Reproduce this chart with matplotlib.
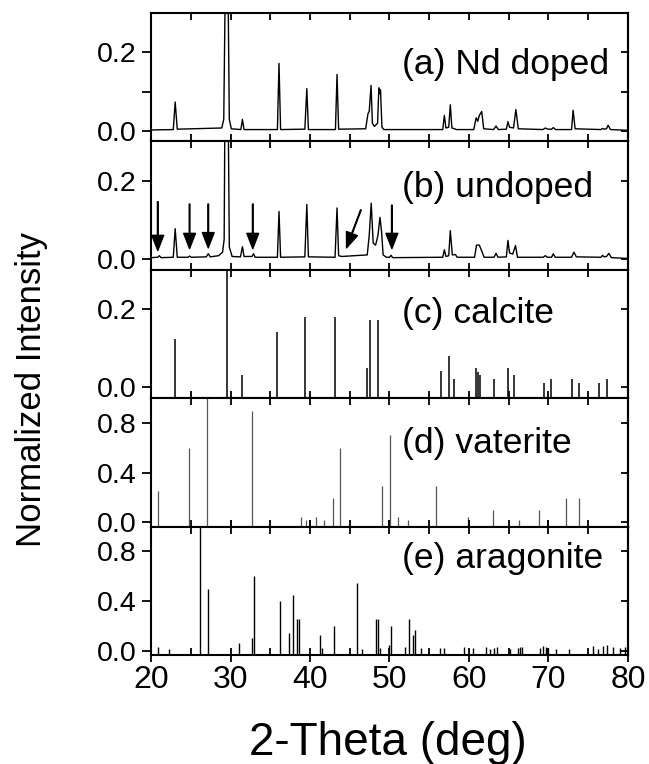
import matplotlib.pyplot as plt
from matplotlib.ticker import FixedLocator, MultipleLocator, FormatStrFormatter

plt.rcParams['font.family'] = ['Liberation Sans', 'DejaVu Sans']

nd_x = [20, 22.8, 23.04, 23.3, 28.9, 29.15, 29.3, 29.5, 29.72, 29.85, 30.1,
        31.3, 31.5, 31.7, 35.9, 36.1, 36.3, 39.35, 39.6, 39.8, 43.2, 43.4, 43.6,
        47.0, 47.3, 47.45, 47.68, 47.85, 48.1, 48.5, 48.66, 48.75, 48.87, 49.05, 49.3,
        56.7, 56.9, 57.1, 57.45, 57.65, 57.85, 58.2, 58.4, 60.6, 60.9, 61.1, 61.3,
        61.6, 61.85, 63.1, 63.4, 63.7, 64.7, 64.9, 65.1, 65.6, 65.9, 66.2, 69.3,
        69.6, 69.9, 70.4, 70.6, 70.9, 72.9, 73.1, 73.35, 76.6, 76.8, 77.0, 77.3,
        77.5, 77.8, 80]
nd_y = [0.003, 0.004, 0.074, 0.005, 0.008, 0.03, 0.3, 1.0, 0.3, 0.03, 0.006,
        0.004, 0.03, 0.004, 0.004, 0.172, 0.004, 0.005, 0.108, 0.004, 0.004, 0.144, 0.005,
        0.006, 0.045, 0.05, 0.116, 0.02, 0.012, 0.02, 0.11, 0.095, 0.105, 0.01, 0.004,
        0.004, 0.04, 0.008, 0.01, 0.067, 0.008, 0.006, 0.004, 0.004, 0.034, 0.025, 0.04,
        0.05, 0.006, 0.004, 0.013, 0.004, 0.005, 0.024, 0.01, 0.008, 0.055, 0.006, 0.004,
        0.008, 0.005, 0.005, 0.009, 0.004, 0.004, 0.053, 0.006, 0.004, 0.007, 0.005, 0.006,
        0.015, 0.004, 0.002]

# (b) undoped
un_x = [20, 20.85, 21.05, 21.25, 22.8, 23.04, 23.3, 24.65, 24.86, 25.05, 26.95, 27.2,
        27.45, 28.5, 29.0, 29.2, 29.3, 29.5, 29.72, 29.85, 30.2, 31.25, 31.5, 31.7,
        32.7, 32.9, 33.1, 35.9, 36.1, 36.3, 39.35, 39.6, 39.8, 43.15, 43.4, 43.6, 44.0,
        47.2, 47.45, 47.7, 47.95, 48.25, 48.55, 48.8, 49.0, 49.2, 49.6, 50.0, 50.2, 50.4,
        56.7, 56.9, 57.1, 57.45, 57.65, 57.9, 58.3, 58.5, 60.7, 60.95, 61.3, 61.6, 61.9,
        63.15, 63.4, 63.65, 64.7, 64.9, 65.1, 65.5, 65.85, 66.1, 69.35, 69.6, 69.85,
        70.4, 70.6, 70.85, 72.9, 73.2, 73.5, 76.6, 76.8, 77.0, 77.3, 77.6, 77.9, 80]
un_y = [0.003, 0.004, 0.008, 0.003, 0.004, 0.077, 0.004, 0.004, 0.007, 0.004, 0.005, 0.013,
        0.005, 0.008, 0.017, 0.05, 0.4, 1.0, 0.35, 0.03, 0.006, 0.005, 0.031, 0.006,
        0.006, 0.013, 0.004, 0.004, 0.121, 0.004, 0.005, 0.139, 0.005, 0.004, 0.13, 0.008, 0.006,
        0.01, 0.06, 0.142, 0.04, 0.035, 0.06, 0.106, 0.07, 0.01, 0.004, 0.004, 0.009, 0.003,
        0.004, 0.023, 0.006, 0.008, 0.072, 0.01, 0.011, 0.004, 0.004, 0.035, 0.035, 0.02, 0.004,
        0.004, 0.014, 0.004, 0.005, 0.047, 0.015, 0.012, 0.034, 0.004, 0.004, 0.008, 0.004,
        0.004, 0.013, 0.004, 0.004, 0.017, 0.005, 0.004, 0.009, 0.005, 0.006, 0.014, 0.003, 0.001]

# arrows marking vaterite peaks in (b)
arr_x0 = [20.85, 24.85, 27.2, 32.8, 46.4, 50.3]
arr_y0 = [0.146, 0.14, 0.14, 0.14, 0.125, 0.137]
arr_x1 = [20.85, 24.85, 27.2, 32.8, 44.6, 50.3]
arr_y1 = [0.021, 0.026, 0.028, 0.026, 0.028, 0.026]

# (c) calcite reference lines
cal_pos = [23.04, 29.5, 31.4, 35.9, 39.4, 43.2, 47.2, 47.5, 48.5, 56.5, 57.5, 58.1,
           60.9, 61.1, 61.4, 63.2, 64.9, 65.7, 69.4, 70.3, 73.0, 73.8, 76.3, 77.3]
cal_int = [0.122, 1.0, 0.03, 0.142, 0.18, 0.18, 0.05, 0.171, 0.171, 0.041, 0.08, 0.02,
           0.05, 0.04, 0.03, 0.02, 0.05, 0.03, 0.01, 0.02, 0.02, 0.01, 0.01, 0.02]

# (d) vaterite reference lines
vat_pos = [20.93, 24.8, 27.1, 32.7, 38.85, 39.45, 40.8, 41.7, 42.9, 43.8, 49.1, 50.1,
           51.1, 52.3, 55.9, 59.9, 63.0, 66.3, 68.8, 72.2, 73.8]
vat_int = [0.25, 0.6, 1.0, 0.9, 0.04, 0.02, 0.04, 0.02, 0.195, 0.6, 0.29, 0.7,
           0.04, 0.016, 0.29, 0.04, 0.095, 0.016, 0.095, 0.195, 0.195]

# (e) aragonite reference lines
ara_pos = [20.9, 22.2, 26.1, 27.2, 31.1, 32.7, 33.0, 36.2, 37.3, 37.8, 38.4, 38.6,
           41.2, 41.5, 43.0, 45.95, 46.5, 48.3, 48.5, 48.8, 50.0, 50.2, 52.0, 52.5,
           53.0, 53.2, 53.95, 56.3, 56.8, 59.4, 60.5, 62.1, 62.6, 63.1, 63.5, 65.1,
           66.2, 66.4, 66.7, 68.9, 69.3, 69.7, 69.9, 71.0, 72.6, 75.6, 76.2, 76.9,
           77.4, 78.1, 79.0, 79.6]
ara_int = [0.034, 0.016, 1.0, 0.5, 0.06, 0.107, 0.6, 0.405, 0.144, 0.45, 0.256, 0.256,
           0.125, 0.026, 0.204, 0.55, 0.016, 0.256, 0.256, 0.026, 0.047, 0.204, 0.034, 0.256,
           0.125, 0.165, 0.026, 0.025, 0.02, 0.03, 0.02, 0.03, 0.015, 0.02, 0.03, 0.015,
           0.025, 0.035, 0.03, 0.025, 0.04, 0.03, 0.02, 0.015, 0.015, 0.04, 0.015, 0.04,
           0.05, 0.03, 0.02, 0.035]

labels = ['(a) Nd doped', '(b) undoped', '(c) calcite', '(d) vaterite', '(e) aragonite']
label_y = [0.6, 0.64, 0.66, 0.65, 0.75]
ylims = [(-0.026, 0.3), (-0.028, 0.3), (-0.028, 0.3), (-0.036, 1.0), (-0.033, 1.0)]
yticks = [[0.0, 0.2], [0.0, 0.2], [0.0, 0.2], [0.0, 0.4, 0.8], [0.0, 0.4, 0.8]]

fig = plt.figure(figsize=(6.49, 7.64), dpi=100)
gs = fig.add_gridspec(5, 1, left=0.2327, right=0.9676, bottom=0.1427, top=0.983, hspace=0)
axs = [fig.add_subplot(gs[i]) for i in range(5)]

axs[0].plot(nd_x, nd_y, color='black', lw=1.0)
axs[1].plot(un_x, un_y, color='black', lw=1.0)
for x0, y0, x1, y1 in zip(arr_x0, arr_y0, arr_x1, arr_y1):
    axs[1].annotate('', xy=(x1, y1), xytext=(x0, y0),
                    arrowprops=dict(facecolor='black', edgecolor='black', width=0.5,
                                    headwidth=8.5, headlength=11, shrink=0))
axs[2].vlines(cal_pos, ylims[2][0], cal_int, color='black', lw=1.1)
axs[3].vlines(vat_pos, ylims[3][0], vat_int, color='#555555', lw=0.9)
axs[4].vlines(ara_pos, ylims[4][0], ara_int, color='black', lw=1.0)

for i, ax in enumerate(axs):
    ax.set_xlim(20, 80)
    ax.set_ylim(*ylims[i])
    for s in ax.spines.values():
        s.set_linewidth(1.5)
    ax.xaxis.set_major_locator(MultipleLocator(10))
    ax.xaxis.set_minor_locator(MultipleLocator(5))
    ax.tick_params(axis='x', which='both', direction='in', top=True, bottom=True,
                   length=5, width=1.3, labelsize=23, pad=2)
    ax.set_yticks(yticks[i])
    ax.yaxis.set_major_formatter(FormatStrFormatter('%.1f'))
    ax.tick_params(axis='y', which='both', direction='out', length=6.5, width=1.3,
                   labelsize=20.5, pad=4)
    sec = ax.secondary_yaxis('right')
    sec.set_yticks(yticks[i])
    sec.tick_params(axis='y', which='both', direction='in', length=5, width=1.3,
                    labelright=False)
    sec.spines['right'].set_linewidth(1.5)
    if i == 0:
        ax.yaxis.set_minor_locator(FixedLocator([0.1]))
        sec.yaxis.set_minor_locator(FixedLocator([0.1]))
    if i < 4:
        ax.tick_params(axis='x', labelbottom=False)
    else:
        ax.tick_params(axis='x', which='major', direction='inout', length=10)
    ax.text(51.6, label_y[i], labels[i], transform=ax.get_xaxis_transform(),
            fontsize=25.5, ha='left', va='center')

fig.text(0.049, 0.49, 'Normalized Intensity', rotation=90, fontsize=25,
         ha='center', va='center')
fig.text(0.598, 0.027, '2-Theta (deg)', fontsize=33, ha='center', va='center')

fig.savefig('out.png', dpi=100)
